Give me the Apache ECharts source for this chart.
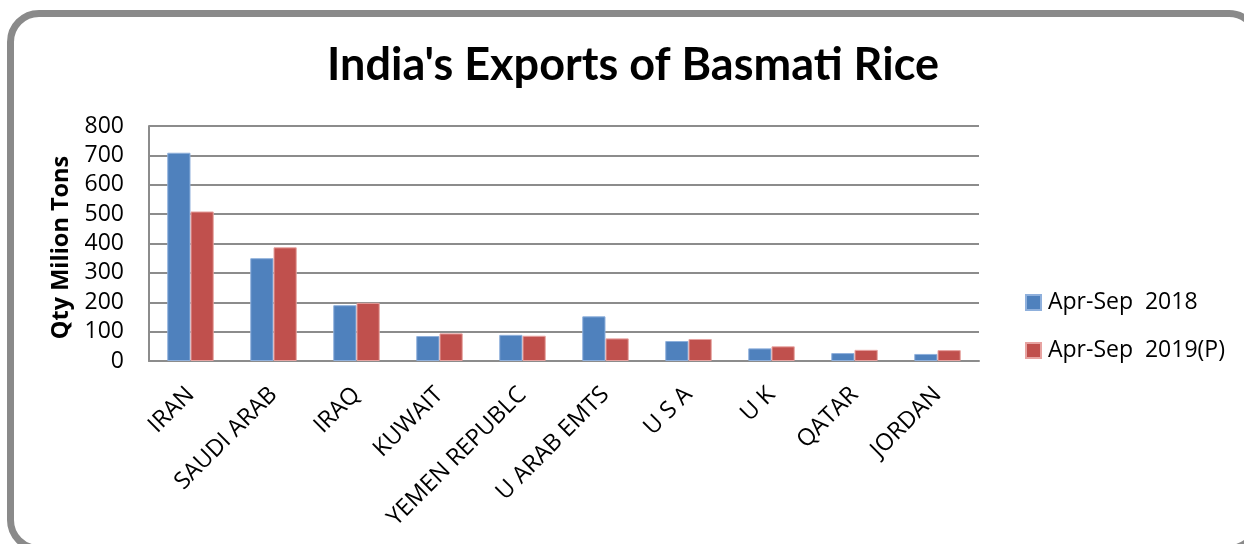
<!DOCTYPE html>
<html><head><meta charset="utf-8">
<script src="https://cdn.jsdelivr.net/npm/echarts@6/dist/echarts.min.js"></script>
<style>
html,body{margin:0;padding:0;background:#fff;width:1244px;height:544px;overflow:hidden;}
#wrap{position:absolute;left:0;top:0;width:1244px;height:544px;overflow:hidden;}
#frame{position:absolute;left:7px;top:10px;width:1254px;height:542px;border:7px solid #8a8a8a;border-radius:32px;box-sizing:border-box;}
#c{position:absolute;left:0;top:0;width:1244px;height:544px;}
</style></head>
<body>
<div id="wrap"><div id="frame"></div><div id="c"></div></div>
<script>
const categories = ['IRAN','SAUDI ARAB','IRAQ','KUWAIT','YEMEN REPUBLC','U ARAB EMTS','U S A','U K','QATAR','JORDAN'];
const series2018 = [709, 350, 190, 85, 89, 152, 68, 43, 27, 24];
const series2019 = [509, 387, 198, 94, 86, 77, 75, 50, 38, 37];
const seriesNames = ['Apr-Sep  2018', 'Apr-Sep  2019(P)'];
const yTicks = [0,100,200,300,400,500,600,700,800];

const chart = echarts.init(document.getElementById('c'));
chart.setOption({
  animation:false,
  title:{text:"India's Exports of Basmati Rice",left:628,top:38,textAlign:'center',
    textStyle:{fontFamily:'Lato',fontWeight:'bold',fontSize:45,color:'#000'}},
  legend:{orient:'vertical',left:1020,top:286,itemWidth:15,itemHeight:15,itemGap:25,
    icon:'rect',textStyle:{fontFamily:'Open Sans',fontSize:23,color:'#000',padding:[0,0,0,2]},data:seriesNames},
  grid:{left:149,top:126,width:830,height:235,containLabel:false},
  xAxis:{type:'category',data:categories,
    axisLine:{lineStyle:{color:'#8c8c8c',width:2}},axisTick:{show:false},
    axisLabel:{rotate:45,fontFamily:'Open Sans',fontSize:23.5,color:'#000',margin:30,interval:0}},
  yAxis:{type:'value',min:0,max:800,interval:100,
    name:'Qty Milion Tons',nameLocation:'middle',nameGap:75,nameRotate:90,
    nameTextStyle:{fontFamily:'Open Sans',fontWeight:'bold',fontSize:23.5,color:'#000',padding:[0,8,0,0]},
    axisLine:{show:true,lineStyle:{color:'#8c8c8c',width:2}},axisTick:{show:false},
    axisLabel:{fontFamily:'Open Sans',fontSize:23,color:'#000',margin:25},
    splitLine:{lineStyle:{color:'#8c8c8c',width:2}}},
  series:[
    {name:seriesNames[0],type:'bar',data:series2018,barGap:'0%',barCategoryGap:'44%',
      itemStyle:{color:'#4F81BD',borderColor:'#8fb0dc',borderWidth:1}},
    {name:seriesNames[1],type:'bar',data:series2019,barGap:'0%',barCategoryGap:'44%',
      itemStyle:{color:'#C0504D',borderColor:'#e7a3a1',borderWidth:1}}
  ]
});
</script>
</body></html>
